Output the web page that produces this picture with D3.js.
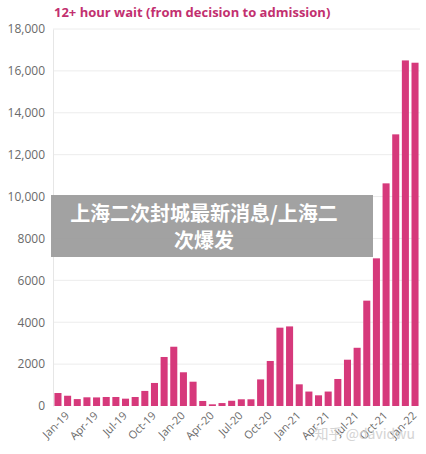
<!DOCTYPE html>
<html>
<head>
<meta charset="utf-8">
<script src="https://cdn.jsdelivr.net/npm/d3@7"></script>
<style>
  body { margin: 0; background: #fff; }
  svg { display: block; }
</style>
</head>
<body>
<script>
// monthly counts, Jan-19 .. Feb-22
var months = ["Jan-19","Feb-19","Mar-19","Apr-19","May-19","Jun-19","Jul-19","Aug-19","Sep-19","Oct-19","Nov-19","Dec-19",
              "Jan-20","Feb-20","Mar-20","Apr-20","May-20","Jun-20","Jul-20","Aug-20","Sep-20","Oct-20","Nov-20","Dec-20",
              "Jan-21","Feb-21","Mar-21","Apr-21","May-21","Jun-21","Jul-21","Aug-21","Sep-21","Oct-21","Nov-21","Dec-21",
              "Jan-22","Feb-22"];
var waits = [620, 490, 330, 415, 410, 430, 430, 350, 430, 720, 1100, 2340,
             2830, 1610, 1160, 240, 80, 140, 250, 320, 320, 1270, 2150, 3740,
             3800, 1035, 690, 510, 690, 1290, 2210, 2780, 5030, 7050, 10630, 12970,
             16500, 16390];
var yTicks = [0, 2000, 4000, 6000, 8000, 10000, 12000, 14000, 16000, 18000];
var titleText = "12+ hour wait (from decision to admission)";
var bannerLines = ["上海二次封城最新消息/上海二", "次爆发"];
var watermark = "知乎 @davidwu";

var W = 426, H = 454;
var svg = d3.select("body").append("svg").attr("width", W).attr("height", H);

var x = d3.scaleBand().domain(months).range([53, 420]).paddingInner(0.27).paddingOuter(0.15);
var y = d3.scaleLinear().domain([0, 18000]).range([406, 29]);

// gridlines
svg.append("g").selectAll("line")
    .data(yTicks.filter(function(d) { return d > 0; }))
    .enter().append("line")
    .attr("x1", 53).attr("x2", 420)
    .attr("y1", function(d) { return y(d); })
    .attr("y2", function(d) { return y(d); })
    .attr("stroke", "#ececec").attr("stroke-width", 1);

// y axis
var fmt = function(d) { return d >= 10000 ? d3.format(",")(d) : String(d); };
var yAxis = svg.append("g").attr("transform", "translate(53,0)")
    .call(d3.axisLeft(y).tickValues(yTicks).tickFormat(fmt).tickSize(0).tickPadding(8));
yAxis.select(".domain").attr("stroke", "#e6e6e6");
yAxis.selectAll("text").attr("fill", "#6a6a6a").style("font-family", "'Open Sans', sans-serif").style("font-size", "12px");

// bars
svg.append("g").selectAll("rect")
    .data(waits)
    .enter().append("rect")
    .attr("x", function(d, i) { return x(months[i]); })
    .attr("width", x.bandwidth())
    .attr("y", function(d) { return y(d); })
    .attr("height", function(d) { return y(0) - y(d); })
    .attr("fill", "#d6397b");

// x axis, every third month
var xAxis = svg.append("g").attr("transform", "translate(0,406)")
    .call(d3.axisBottom(x).tickValues(months.filter(function(d, i) { return i % 3 === 0; })).tickSize(0).tickPadding(8));
xAxis.select(".domain").remove();
xAxis.selectAll("text")
    .attr("fill", "#6a6a6a")
    .style("font-family", "'Open Sans', sans-serif").style("font-size", "11px")
    .attr("text-anchor", "end")
    .attr("dx", "0.1em").attr("dy", "0.7em")
    .attr("transform", "rotate(-45)");

// title
svg.append("text")
    .attr("x", 54).attr("y", 17)
    .attr("fill", "#c2306f")
    .style("font-family", "'Open Sans', sans-serif").style("font-weight", "bold").style("font-size", "13px")
    .text(titleText);

// banner overlay
svg.append("rect")
    .attr("x", 51).attr("y", 195).attr("width", 322).attr("height", 62)
    .attr("fill", "#9b9b9b").attr("opacity", 0.93);
svg.append("g").selectAll("text")
    .data(bannerLines)
    .enter().append("text")
    .attr("x", 204)
    .attr("y", function(d, i) { return 221 + i * 27; })
    .attr("text-anchor", "middle")
    .attr("fill", "#fff")
    .style("font-family", "'Noto Sans CJK SC', sans-serif").style("font-weight", "bold").style("font-size", "20px")
    .text(function(d) { return d; });

// watermark
svg.append("text")
    .attr("x", 415).attr("y", 439)
    .attr("text-anchor", "end")
    .attr("fill", "#d0d0d0").attr("opacity", 0.9)
    .style("font-family", "'Noto Sans CJK SC', sans-serif").style("font-size", "14px")
    .text(watermark);
</script>
</body>
</html>
